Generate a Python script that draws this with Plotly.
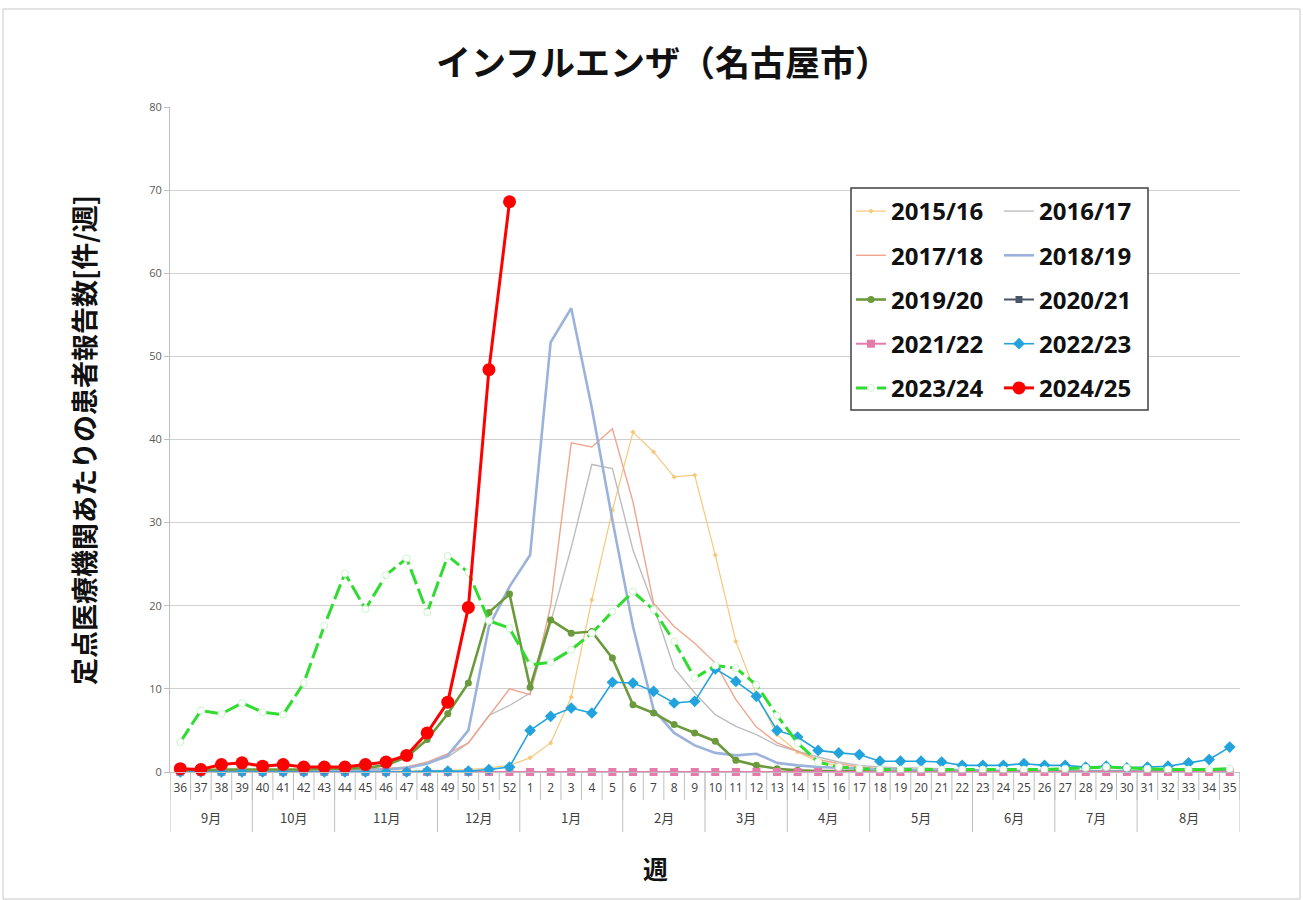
import plotly.graph_objects as go

# ---------------- data ----------------
weeks = ["36", "37", "38", "39", "40", "41", "42", "43", "44", "45", "46", "47", "48", "49", "50", "51", "52",
         "1", "2", "3", "4", "5", "6", "7", "8", "9", "10", "11", "12", "13", "14", "15", "16", "17", "18",
         "19", "20", "21", "22", "23", "24", "25", "26", "27", "28", "29", "30", "31", "32", "33", "34", "35"]
months = ["9月", "10月", "11月", "12月", "1月", "2月", "3月", "4月", "5月", "6月", "7月", "8月"]
month_weeks = [4, 4, 5, 4, 5, 4, 4, 4, 5, 4, 4, 5]

s2015 = [0.1, 0.1, 0.1, 0.1, 0.1, 0.1, 0.1, 0.1, 0.1, 0.1, 0.1, 0.1, 0.2, 0.2, 0.3, 0.5, 0.8,
         1.7, 3.5, 9.0, 20.7, 31.5, 40.9, 38.5, 35.5, 35.7, 26.1, 15.7, 9.3, 4.5, 2.4, 1.2, 0.7, 0.4, 0.3,
         0.2, 0.2, 0.2, 0.1, 0.1, 0.1, 0.1, 0.1, 0.1, 0.1, 0.1, 0.1, 0.1, 0.1, 0.1, 0.1, 0.1]
s2016 = [0.1, 0.1, 0.1, 0.2, 0.2, 0.2, 0.2, 0.3, 0.3, 0.3, 0.4, 0.5, 1.0, 1.8, 3.5, 6.8, 8.0,
         9.5, 18.0, 27.0, 37.0, 36.5, 26.7, 20.0, 12.5, 9.5, 6.9, 5.5, 4.5, 3.2, 2.5, 1.8, 1.2, 0.8, 0.6,
         0.5, 0.5, 0.4, 0.3, 0.2, 0.2, 0.2, 0.2, 0.1, 0.1, 0.1, 0.1, 0.1, 0.1, 0.1, 0.1, 0.1]
s2017 = [0.1, 0.1, 0.1, 0.1, 0.2, 0.2, 0.2, 0.2, 0.3, 0.3, 0.4, 0.6, 1.2, 2.2, 3.5, 6.8, 10.0,
         9.3, 20.0, 39.6, 39.1, 41.3, 32.5, 20.3, 17.5, 15.5, 13.1, 8.7, 5.4, 3.5, 2.5, 1.5, 1.0, 0.6, 0.4,
         0.3, 0.3, 0.2, 0.2, 0.2, 0.1, 0.1, 0.1, 0.1, 0.1, 0.1, 0.1, 0.1, 0.1, 0.1, 0.1, 0.1]
s2018 = [0.1, 0.1, 0.1, 0.1, 0.1, 0.2, 0.2, 0.2, 0.2, 0.3, 0.3, 0.5, 1.0, 2.0, 5.0, 17.5, 22.3,
         26.1, 51.7, 55.8, 43.8, 30.3, 17.5, 7.5, 4.7, 3.2, 2.3, 2.0, 2.2, 1.1, 0.8, 0.6, 0.5, 0.4, 0.3,
         0.3, 0.2, 0.2, 0.2, 0.2, 0.1, 0.1, 0.1, 0.1, 0.1, 0.1, 0.1, 0.1, 0.1, 0.1, 0.1, 0.1]
s2019 = [0.2, 0.2, 0.3, 0.3, 0.3, 0.3, 0.3, 0.4, 0.4, 0.5, 0.8, 1.8, 3.9, 7.0, 10.7, 19.2, 21.4,
         10.2, 18.3, 16.7, 16.9, 13.7, 8.1, 7.1, 5.7, 4.7, 3.7, 1.4, 0.8, 0.4, 0.2, 0.1, 0.1, 0.1, 0.0,
         0.0, 0.0, 0.0, 0.0, 0.0, 0.0, 0.0, 0.0, 0.0, 0.0, 0.0, 0.0, 0.0, 0.0, 0.0, 0.0, 0.0]
s2020 = [0.0, 0.0, 0.0, 0.0, 0.0, 0.0, 0.0, 0.0, 0.0, 0.0, 0.0, 0.0, 0.0, 0.0, 0.0, 0.0, 0.0,
         0.0, 0.0, 0.0, 0.0, 0.0, 0.0, 0.0, 0.0, 0.0, 0.0, 0.0, 0.0, 0.0, 0.0, 0.0, 0.0, 0.0, 0.0,
         0.0, 0.0, 0.0, 0.0, 0.0, 0.0, 0.0, 0.0, 0.0, 0.0, 0.0, 0.0, 0.0, 0.0, 0.0, 0.0, 0.0]
s2021 = [0.0, 0.0, 0.0, 0.0, 0.0, 0.0, 0.0, 0.0, 0.0, 0.0, 0.0, 0.0, 0.0, 0.0, 0.0, 0.0, 0.0,
         0.0, 0.0, 0.0, 0.0, 0.0, 0.0, 0.0, 0.0, 0.0, 0.0, 0.0, 0.0, 0.0, 0.0, 0.0, 0.0, 0.0, 0.0,
         0.0, 0.0, 0.0, 0.0, 0.0, 0.0, 0.0, 0.0, 0.0, 0.0, 0.0, 0.0, 0.0, 0.0, 0.0, 0.0, 0.0]
s2022 = [0.0, 0.0, 0.0, 0.0, 0.0, 0.0, 0.0, 0.0, 0.0, 0.0, 0.0, 0.0, 0.1, 0.1, 0.1, 0.3, 0.6,
         5.0, 6.7, 7.7, 7.1, 10.8, 10.7, 9.7, 8.3, 8.5, 12.4, 10.9, 9.1, 5.0, 4.2, 2.6, 2.3, 2.1, 1.3,
         1.3, 1.3, 1.2, 0.8, 0.8, 0.8, 1.0, 0.8, 0.8, 0.6, 0.7, 0.5, 0.6, 0.7, 1.1, 1.5, 3.0]
s2023 = [3.6, 7.4, 7.0, 8.3, 7.2, 6.9, 10.7, 17.6, 23.9, 19.6, 23.7, 25.7, 19.2, 26.0, 24.0, 18.2, 17.3,
         12.9, 13.2, 14.7, 16.7, 19.3, 21.7, 19.5, 15.7, 11.3, 12.8, 12.5, 10.5, 6.8, 3.5, 1.2, 0.6, 0.4, 0.3,
         0.3, 0.3, 0.3, 0.3, 0.3, 0.3, 0.3, 0.3, 0.4, 0.5, 0.6, 0.5, 0.4, 0.3, 0.3, 0.3, 0.4]
s2024 = [0.4, 0.3, 0.9, 1.1, 0.7, 0.9, 0.6, 0.6, 0.6, 0.9, 1.2, 2.0, 4.7, 8.4, 19.8, 48.4, 68.6]

# ---------------- layout geometry (pixels) ----------------
W, H = 1303, 900
L, R, T, B = 170, 63, 107, 128
PW = W - L - R
PH = H - T - B


def px_x(px):
    return (px - L) / PW


def px_y(py):
    return (H - B - py) / PH


CJK = "Noto Sans CJK JP"
LAT = "Open Sans, Noto Sans CJK JP"

fig = go.Figure()
xs = list(range(len(weeks)))

series = [
    ("2015/16", s2015, dict(color="#F6C97C", width=1.2), dict(symbol="diamond", size=4, color="#F6C97C"), "lines+markers", "legend"),
    ("2016/17", s2016, dict(color="#BDBDBD", width=1.4), None, "lines", "legend2"),
    ("2017/18", s2017, dict(color="#EFA58E", width=1.4), None, "lines", "legend"),
    ("2018/19", s2018, dict(color="#9BB3DA", width=2.6), None, "lines", "legend2"),
    ("2019/20", s2019, dict(color="#6B9A3C", width=2.6), dict(symbol="circle", size=7, color="#6B9A3C"), "lines+markers", "legend"),
    ("2020/21", s2020, dict(color="#4A5568", width=2), dict(symbol="square", size=7, color="#4A5568"), "lines+markers", "legend2"),
    ("2021/22", s2021, dict(color="#E67AAB", width=2), dict(symbol="square", size=8, color="#E67AAB"), "lines+markers", "legend"),
    ("2022/23", s2022, dict(color="#22A3DD", width=1.6), dict(symbol="diamond", size=9, color="#22A3DD"), "lines+markers", "legend2"),
    ("2023/24", s2023, dict(color="#2FDC2F", width=3, dash="16px,5px"),
     dict(symbol="circle", size=7, color="white", line=dict(color="#CFF3CF", width=1)), "lines+markers", "legend"),
    ("2024/25", s2024, dict(color="#FF0000", width=3), dict(symbol="circle", size=13, color="#FF0000"), "lines+markers", "legend2"),
]

for name, vals, line, marker, mode, lg in series:
    kw = dict(x=xs[:len(vals)], y=vals, name=name, mode=mode, line=line, cliponaxis=False,
              legend=lg, legendgroup=name, showlegend=True)
    if marker is not None:
        kw["marker"] = marker
    fig.add_trace(go.Scatter(**kw))

shapes = []
# week separators below the axis
for i in range(len(weeks) + 1):
    xv = i - 0.5
    shapes.append(dict(type="line", xref="x", yref="paper", x0=xv, x1=xv,
                       y0=0, y1=px_y(800), line=dict(color="#BFBFBF", width=1)))
# month separators and labels
annotations = []
start = 0
shapes.append(dict(type="line", xref="x", yref="paper", x0=-0.5, x1=-0.5,
                   y0=0, y1=px_y(832), line=dict(color="#BFBFBF", width=1)))
for m, n in zip(months, month_weeks):
    end = start + n
    shapes.append(dict(type="line", xref="x", yref="paper", x0=end - 0.5, x1=end - 0.5,
                       y0=0, y1=px_y(832), line=dict(color="#BFBFBF", width=1)))
    annotations.append(dict(x=start + (n - 1) / 2, y=px_y(817), xref="x", yref="paper",
                            text=m, showarrow=False, xanchor="center", yanchor="middle",
                            font=dict(family=CJK, size=13, color="#404040")))
    start = end

# legend frame
shapes.append(dict(type="rect", xref="paper", yref="paper", layer="above",
                   x0=px_x(851), x1=px_x(1148), y0=px_y(410), y1=px_y(188),
                   fillcolor="white", line=dict(color="#404040", width=1.5)))
# outer chart border
shapes.append(dict(type="rect", xref="paper", yref="paper",
                   x0=px_x(3), x1=px_x(1300), y0=px_y(899), y1=px_y(9),
                   line=dict(color="#C8C8C8", width=1)))

annotations.append(dict(x=px_x(84), y=px_y(440), xref="paper", yref="paper",
                        text="定点医療機関あたりの患者報告数[件/週]", textangle=-90, showarrow=False,
                        xanchor="center", yanchor="middle",
                        font=dict(family=CJK, size=27, color="#111111", weight="bold")))
annotations.append(dict(x=px_x(655), y=px_y(868), xref="paper", yref="paper",
                        text="週", showarrow=False, xanchor="center", yanchor="middle",
                        font=dict(family=CJK, size=25, color="#111111", weight="bold")))

legend_font = dict(family=LAT, size=24, color="#111111", weight="bold")
fig.update_layout(
    width=W, height=H,
    margin=dict(l=L, r=R, t=T, b=B),
    paper_bgcolor="white", plot_bgcolor="white",
    font=dict(family=LAT),
    title=dict(text="インフルエンザ（名古屋市）", x=663 / W, xref="container", xanchor="center",
               y=1 - 64 / H, yref="container", yanchor="middle",
               font=dict(family=CJK, size=35, color="#111111", weight="bold")),
    xaxis=dict(range=[-0.5, len(weeks) - 0.5], tickvals=xs, ticktext=weeks, showgrid=False,
               zeroline=False, showline=True, linecolor="#BFBFBF", linewidth=1,
               ticks="outside", ticklen=5, tickcolor="rgba(0,0,0,0)",
               tickfont=dict(family=LAT, size=12, color="#404040"), fixedrange=True),
    yaxis=dict(range=[0, 80], dtick=10, showgrid=True, gridcolor="#D0D0D0", gridwidth=1,
               zeroline=False, showline=True, linecolor="#BFBFBF", linewidth=1,
               ticks="outside", ticklen=5, tickcolor="#BFBFBF",
               tickfont=dict(family=LAT, size=11, color="#595959"), fixedrange=True),
    legend=dict(x=px_x(851), y=px_y(189), xanchor="left", yanchor="top", bgcolor="rgba(0,0,0,0)",
                font=legend_font, traceorder="grouped", tracegroupgap=10, borderwidth=0),
    legend2=dict(x=px_x(999), y=px_y(189), xanchor="left", yanchor="top", bgcolor="rgba(0,0,0,0)",
                 font=legend_font, traceorder="grouped", tracegroupgap=10, borderwidth=0),
    shapes=shapes,
    annotations=annotations,
    showlegend=True,
)

fig.write_html("out.html", config={"displayModeBar": False},
               post_script="document.body.style.margin='0';")
